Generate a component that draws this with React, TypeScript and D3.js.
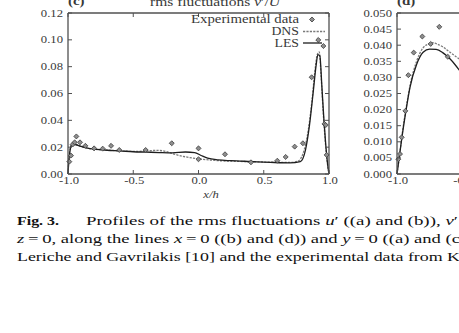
import * as d3 from 'd3';

// panel (c): rms fluctuations v'/U along y = 0
const cLesX = [-1, -0.995, -0.985, -0.975, -0.96, -0.94, -0.9, -0.85, -0.8, -0.7, -0.6, -0.5, -0.4, -0.3, -0.2, -0.1, -0.03, 0.02, 0.07, 0.15, 0.25, 0.4, 0.55, 0.7, 0.78, 0.82, 0.85, 0.88, 0.9, 0.915, 0.93, 0.945, 0.96, 0.975, 0.99, 1];
const cLesY = [0, 0.008, 0.017, 0.021, 0.0222, 0.0218, 0.0205, 0.0193, 0.0186, 0.0177, 0.0172, 0.0166, 0.0163, 0.016, 0.0158, 0.0164, 0.016, 0.0138, 0.0118, 0.0105, 0.0099, 0.0093, 0.0087, 0.0083, 0.0092, 0.018, 0.036, 0.062, 0.08, 0.089, 0.088, 0.066, 0.042, 0.022, 0.007, 0];
const cDnsX = [-1, -0.995, -0.985, -0.975, -0.96, -0.94, -0.9, -0.85, -0.8, -0.7, -0.6, -0.5, -0.4, -0.32, -0.25, -0.2, -0.1, 0, 0.1, 0.2, 0.3, 0.4, 0.55, 0.7, 0.76, 0.8, 0.84, 0.87, 0.89, 0.91, 0.925, 0.94, 0.955, 0.97, 0.985, 1];
const cDnsY = [0, 0.009, 0.018, 0.0215, 0.0225, 0.022, 0.0205, 0.0192, 0.0184, 0.0178, 0.0172, 0.0168, 0.0172, 0.0176, 0.0168, 0.0152, 0.0128, 0.0113, 0.0103, 0.0097, 0.0094, 0.0092, 0.0088, 0.0086, 0.0095, 0.015, 0.032, 0.055, 0.075, 0.089, 0.091, 0.072, 0.047, 0.026, 0.01, 0];
const cExpX = [-0.99, -0.977, -0.964, -0.949, -0.936, -0.908, -0.867, -0.8, -0.734, -0.67, -0.607, -0.405, -0.205, 0, 0, 0.203, 0.402, 0.604, 0.668, 0.737, 0.8, 0.867, 0.918, 0.957, 0.965, 0.975, 0.982];
const cExpY = [0.0092, 0.0137, 0.022, 0.0236, 0.028, 0.0236, 0.021, 0.0191, 0.0189, 0.021, 0.0179, 0.0179, 0.0229, 0.0191, 0.011, 0.0147, 0.0087, 0.0099, 0.0127, 0.0204, 0.0229, 0.0721, 0.0999, 0.0954, 0.0373, 0.0365, 0.0142];

// panel (d): along x = 0 (only the left part is visible)
const dLesX = [-1, -0.98, -0.96, -0.93, -0.9, -0.85, -0.8, -0.75, -0.7, -0.65, -0.6, -0.55, -0.5, -0.45];
const dLesY = [0, 0.006, 0.012, 0.02, 0.027, 0.034, 0.0378, 0.0388, 0.0387, 0.0377, 0.036, 0.0337, 0.031, 0.028];
const dDnsX = [-1, -0.98, -0.96, -0.93, -0.9, -0.85, -0.8, -0.75, -0.72, -0.7, -0.65, -0.6, -0.55, -0.5, -0.45];
const dDnsY = [0, 0.006, 0.0125, 0.0205, 0.0275, 0.035, 0.0392, 0.0405, 0.0408, 0.0405, 0.0395, 0.038, 0.0365, 0.035, 0.033];
const dExpX = [-0.99, -0.977, -0.964, -0.936, -0.913, -0.872, -0.806, -0.742, -0.676, -0.611];
const dExpY = [0.0046, 0.0062, 0.0114, 0.0196, 0.0307, 0.0377, 0.0427, 0.0404, 0.0457, 0.0364];

const xTicks = [-1, -0.5, 0, 0.5, 1];
const xTickLabels = ['-1.0', '-0.5', '0.0', '0.5', '1.0'];
const cYTicks = [0, 0.02, 0.04, 0.06, 0.08, 0.1, 0.12];
const cYTickLabels = ['0.00', '0.02', '0.04', '0.06', '0.08', '0.10', '0.12'];
const dYTicks = [0, 0.005, 0.01, 0.015, 0.02, 0.025, 0.03, 0.035, 0.04, 0.045, 0.05];
const dYTickLabels = ['0.000', '0.005', '0.010', '0.015', '0.020', '0.025', '0.030', '0.035', '0.040', '0.045', '0.050'];
const legendLabels = ['Experimental data', 'DNS', 'LES'];

const FONT = '"Liberation Serif", "Times New Roman", serif';
const AXIS = '#505050';
const INK = '#383838';

const zip = (xs: number[], ys: number[]) => xs.map((x, i) => [x, ys[i]] as [number, number]);

const markerType = (d3 as any).symbolDiamond2 ?? d3.symbolDiamond;
const marker = d3.symbol().type(markerType).size(16)() ?? '';

// scanned figure is stretched horizontally, so text gets widened a bit
const T = ({ x, y, children, anchor = 'start', size = 11, sx = 1.15, italic = false, bold = false }: any) => (
  <text
    transform={`translate(${x},${y}) scale(${sx},1)`}
    textAnchor={anchor}
    fontSize={size}
    fontFamily={FONT}
    fontStyle={italic ? 'italic' : 'normal'}
    fontWeight={bold ? 'bold' : 'normal'}
    fill={INK}
  >
    {children}
  </text>
);

const Point = ({ cx, cy }: any) => (
  <path d={marker} transform={`translate(${cx},${cy})`} fill="#8e8e8e" stroke="#3c3c3c" strokeWidth={0.8} />
);

const Panel = ({ x, y, yTicks, yLabels, les, dns, exp, left, right, top, bottom }: any) => {
  const line = d3
    .line<[number, number]>()
    .x((d) => x(d[0]))
    .y((d) => y(d[1]))
    .curve(d3.curveMonotoneX);
  const tk = 4;
  return (
    <g>
      <path d={line(dns) ?? ''} fill="none" stroke="#7a7a7a" strokeWidth={1.3} strokeDasharray="2.2,1.2" />
      <path d={line(les) ?? ''} fill="none" stroke="#1e1e1e" strokeWidth={1.3} />
      {exp.map((d: [number, number], i: number) => (
        <Point key={i} cx={x(d[0])} cy={y(d[1])} />
      ))}
      {/* frame */}
      <line x1={left} x2={right} y1={top} y2={top} stroke={AXIS} strokeWidth={1.3} />
      <line x1={left} x2={right} y1={bottom} y2={bottom} stroke={AXIS} strokeWidth={1.3} />
      <line x1={left} x2={left} y1={top} y2={bottom} stroke={AXIS} strokeWidth={1.3} />
      {right < 459 && <line x1={right} x2={right} y1={top} y2={bottom} stroke={AXIS} strokeWidth={1.3} />}
      {xTicks.map((t, i) => (
        <g key={'x' + i}>
          <line x1={x(t)} x2={x(t)} y1={bottom} y2={bottom - tk} stroke={AXIS} />
          <line x1={x(t)} x2={x(t)} y1={top} y2={top + tk} stroke={AXIS} />
          <T x={x(t) + 1} y={bottom + 10} anchor="middle">{xTickLabels[i]}</T>
        </g>
      ))}
      {yTicks.map((t: number, i: number) => (
        <g key={'y' + i}>
          <line x1={left} x2={left + tk} y1={y(t)} y2={y(t)} stroke={AXIS} />
          <line x1={right} x2={right - tk} y1={y(t)} y2={y(t)} stroke={AXIS} />
          <T x={left - 5} y={y(t) + 3.5} anchor="end">{yLabels[i]}</T>
        </g>
      ))}
    </g>
  );
};

export default function App() {
  const W = 459;
  const H = 333;
  const top = 13;
  const bottom = 174;

  const xC = d3.scaleLinear().domain([-1, 1]).range([68, 329]);
  const yC = d3.scaleLinear().domain([0, 0.12]).range([bottom, top]);
  const xD = d3.scaleLinear().domain([-1, 1]).range([397, 658]);
  const yD = d3.scaleLinear().domain([0, 0.05]).range([bottom, top]);

  const lx0 = 303;
  const legendY = [19.5, 31.5, 43];

  return (
    <svg width={W} height={H} style={{ position: 'absolute', left: 0, top: 0, background: '#fff' }}>
      <rect width={W} height={H} fill="#fff" />
      <Panel
        x={xC} y={yC} yTicks={cYTicks} yLabels={cYTickLabels}
        les={zip(cLesX, cLesY)} dns={zip(cDnsX, cDnsY)} exp={zip(cExpX, cExpY)}
        left={68} right={329} top={top} bottom={bottom}
      />
      <Panel
        x={xD} y={yD} yTicks={dYTicks} yLabels={dYTickLabels}
        les={zip(dLesX, dLesY)} dns={zip(dDnsX, dDnsY)} exp={zip(dExpX, dExpY)}
        left={397} right={658} top={top} bottom={bottom}
      />

      {/* panel labels and title, cut by the top edge */}
      <T x={68} y={5} size={13} bold>(c)</T>
      <T x={397} y={5} size={13} bold>(d)</T>
      <text x={150} y={6} fontSize={12} fontFamily={FONT} fill={INK} textLength={130} lengthAdjust="spacingAndGlyphs">
        rms fluctuations <tspan fontStyle="italic">v</tspan>′/<tspan fontStyle="italic">U</tspan>
      </text>

      {/* legend */}
      <text x={191} y={legendY[0] + 3.5} fontSize={12} fontFamily={FONT} fill={INK} textLength={108} lengthAdjust="spacingAndGlyphs">{legendLabels[0]}</text>
      <T x={299} y={legendY[1] + 3.5} anchor="end" size={12}>{legendLabels[1]}</T>
      <T x={299} y={legendY[2] + 3.5} anchor="end" size={12}>{legendLabels[2]}</T>
      <Point cx={312} cy={legendY[0]} />
      <line x1={lx0} x2={lx0 + 22} y1={legendY[1]} y2={legendY[1]} stroke="#7a7a7a" strokeWidth={1.3} strokeDasharray="2.2,1.2" />
      <line x1={lx0} x2={lx0 + 19} y1={legendY[2]} y2={legendY[2]} stroke="#1e1e1e" strokeWidth={1.3} />

      <T x={211} y={198} anchor="middle" italic size={11}>x/h</T>

      {/* caption */}
      <text x={17} y={225} fontSize={12.5} fontFamily={FONT} fill="#111" fontWeight="bold" textLength={42} lengthAdjust="spacingAndGlyphs">Fig. 3.</text>
      <text x={86} y={225} fontSize={12.5} fontFamily={FONT} fill="#111" textLength={372} lengthAdjust="spacingAndGlyphs">
        Profiles of the rms fluctuations <tspan fontStyle="italic">u</tspan>′ ((a) and (b)), <tspan fontStyle="italic">v</tspan>′
      </text>
      <text x={17} y={243} fontSize={12.5} fontFamily={FONT} fill="#111" textLength={443} lengthAdjust="spacingAndGlyphs">
        <tspan fontStyle="italic">z</tspan>{'\u2009=\u20090'}, along the lines <tspan fontStyle="italic">x</tspan>{'\u2009=\u20090'} ((b) and (d)) and <tspan fontStyle="italic">y</tspan>{'\u2009=\u20090'} ((a) and (c
      </text>
      <text x={17} y={261} fontSize={12.5} fontFamily={FONT} fill="#111" textLength={443} lengthAdjust="spacingAndGlyphs">
        Leriche and Gavrilakis [10] and the experimental data from K
      </text>
    </svg>
  );
}
